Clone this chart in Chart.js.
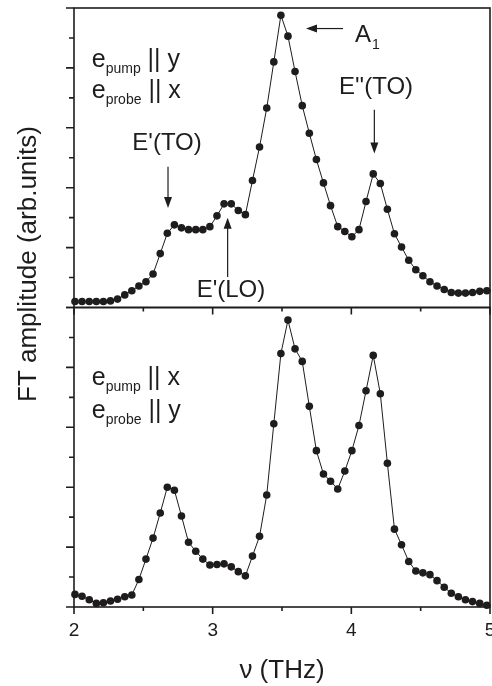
<!DOCTYPE html>
<html>
<head>
<meta charset="utf-8">
<script src="https://cdn.jsdelivr.net/npm/chart.js@4"></script>
<style>
  html, body { margin: 0; padding: 0; background: #fff; overflow: hidden; }
  #wrap { position: relative; width: 510px; height: 686px; }
</style>
</head>
<body>
<div id="wrap"><canvas id="chart" width="510" height="686"></canvas></div>
<script>
// frequency of each FFT point (THz), shared by both panels
const freq = [
  2.007, 2.058, 2.110, 2.161, 2.212, 2.263, 2.314, 2.366, 2.417, 2.468,
  2.519, 2.570, 2.622, 2.673, 2.724, 2.775, 2.826, 2.878, 2.929, 2.980,
  3.031, 3.082, 3.134, 3.185, 3.236, 3.287, 3.338, 3.390, 3.441, 3.492,
  3.543, 3.594, 3.646, 3.697, 3.748, 3.799, 3.850, 3.902, 3.953, 4.004,
  4.055, 4.106, 4.158, 4.209, 4.260, 4.311, 4.362, 4.414, 4.465, 4.516,
  4.567, 4.618, 4.670, 4.721, 4.772, 4.823, 4.874, 4.926, 4.977
];
// upper panel: e_pump || y, e_probe || x
const ampTop = [
  0.10, 0.10, 0.10, 0.10, 0.10, 0.11, 0.14, 0.21, 0.28, 0.36,
  0.43, 0.56, 0.90, 1.24, 1.38, 1.33, 1.30, 1.30, 1.30, 1.35,
  1.53, 1.73, 1.73, 1.62, 1.55, 2.12, 2.68, 3.33, 4.10, 4.88,
  4.53, 3.94, 3.37, 2.91, 2.47, 2.08, 1.70, 1.35, 1.27, 1.18,
  1.30, 1.77, 2.23, 2.07, 1.64, 1.23, 1.01, 0.79, 0.63, 0.53,
  0.43, 0.36, 0.30, 0.25, 0.24, 0.24, 0.25, 0.27, 0.28
];
// lower panel: e_pump || x, e_probe || y
const ampBottom = [
  0.21, 0.18, 0.12, 0.06, 0.07, 0.10, 0.13, 0.17, 0.20, 0.46,
  0.80, 1.15, 1.57, 2.00, 1.95, 1.52, 1.08, 0.93, 0.80, 0.70,
  0.71, 0.72, 0.67, 0.59, 0.52, 0.85, 1.18, 1.87, 3.06, 4.23,
  4.79, 4.31, 4.10, 3.35, 2.61, 2.22, 2.10, 1.97, 2.27, 2.61,
  3.03, 3.61, 4.20, 3.56, 2.40, 1.30, 1.04, 0.76, 0.60, 0.57,
  0.54, 0.44, 0.33, 0.23, 0.17, 0.12, 0.09, 0.06, 0.03
];
const xTickLabels = ["2", "3", "4", "5"];
const xMinorTicks = [2, 2.5, 3, 3.5, 4, 4.5, 5];
const yMinorTicks = [0, 0.5, 1, 1.5, 2, 2.5, 3, 3.5, 4, 4.5, 5];

const ink = "#1e1c1d";
const family = "'Liberation Sans', Arial, Helvetica, sans-serif";

function arrow(ctx, x1, y1, x2, y2) {
  const a = Math.atan2(y2 - y1, x2 - x1);
  const len = 11, half = 4;
  ctx.beginPath();
  ctx.moveTo(x1, y1);
  ctx.lineTo(x2 - len * Math.cos(a) * 0.8, y2 - len * Math.sin(a) * 0.8);
  ctx.stroke();
  ctx.beginPath();
  ctx.moveTo(x2, y2);
  ctx.lineTo(x2 - len * Math.cos(a) + half * Math.sin(a), y2 - len * Math.sin(a) - half * Math.cos(a));
  ctx.lineTo(x2 - len * Math.cos(a) - half * Math.sin(a), y2 - len * Math.sin(a) + half * Math.cos(a));
  ctx.closePath();
  ctx.fill();
}

// text made of normal and subscript runs, left aligned on a baseline
function richText(ctx, x, y, parts) {
  ctx.textAlign = "left";
  ctx.textBaseline = "alphabetic";
  for (const p of parts) {
    ctx.font = (p.sub ? "14px " : "25px ") + family;
    ctx.fillText(p.t, x, p.sub ? y + 6 : y);
    x += ctx.measureText(p.t).width;
  }
}

const decorations = {
  id: "decorations",
  afterDraw(chart) {
    const { ctx, scales } = chart;
    const sx = scales.x, yT = scales.yTop, yB = scales.yBot;
    const left = sx.left, right = sx.right;
    ctx.save();
    ctx.strokeStyle = ink;
    ctx.fillStyle = ink;

    // panel frames with outward ticks
    ctx.lineWidth = 1.6;
    for (const ys of [yT, yB]) {
      ctx.strokeRect(left, ys.top, right - left, ys.bottom - ys.top);
      ctx.beginPath();
      for (const v of yMinorTicks) {
        const py = ys.getPixelForValue(v);
        const len = v % 1 === 0 ? 8 : 5;
        ctx.moveTo(left - len, py);
        ctx.lineTo(left, py);
      }
      for (const v of xMinorTicks) {
        const px = sx.getPixelForValue(v);
        const len = v % 1 === 0 ? 7 : 4;
        ctx.moveTo(px, ys.bottom);
        ctx.lineTo(px, ys.bottom + len);
      }
      ctx.stroke();
    }

    // shared y title
    ctx.save();
    ctx.translate(29, 264);
    ctx.rotate(-Math.PI / 2);
    ctx.font = "26px " + family;
    ctx.textAlign = "center";
    ctx.textBaseline = "middle";
    ctx.fillText("FT amplitude (arb.units)", 0, 0);
    ctx.restore();

    const X = v => sx.getPixelForValue(v);
    const T = v => yT.getPixelForValue(v);
    const B = v => yB.getPixelForValue(v);

    // polarisation labels
    richText(ctx, X(2.128), T(4.02), [{ t: "e" }, { t: "pump", sub: true }, { t: " || y" }]);
    richText(ctx, X(2.128), T(3.50), [{ t: "e" }, { t: "probe", sub: true }, { t: " || x" }]);
    richText(ctx, X(2.128), B(3.71), [{ t: "e" }, { t: "pump", sub: true }, { t: " || x" }]);
    richText(ctx, X(2.128), B(3.16), [{ t: "e" }, { t: "probe", sub: true }, { t: " || y" }]);

    // mode labels
    ctx.font = "24px " + family;
    ctx.textAlign = "center";
    ctx.textBaseline = "alphabetic";
    ctx.fillText("E'(TO)", X(2.671), T(2.63));
    ctx.fillText("E'(LO)", X(3.132), T(0.18));
    ctx.fillText("E''(TO)", X(4.178), T(3.57));
    ctx.textAlign = "left";
    ctx.fillText("A", X(4.026), T(4.44));
    const aw = ctx.measureText("A").width;
    ctx.font = "14px " + family;
    ctx.fillText("1", X(4.026) + aw + 1, T(4.44) + 7);

    ctx.lineWidth = 1.2;
    arrow(ctx, X(2.678), T(2.35), X(2.678), T(1.66));
    arrow(ctx, X(3.108), T(0.51), X(3.108), T(1.50));
    arrow(ctx, X(3.94), T(4.657), X(3.673), T(4.657));
    arrow(ctx, X(4.166), T(3.30), X(4.166), T(2.57));
    ctx.restore();
  }
};

function series(values, axis) {
  return {
    data: freq.map((f, i) => ({ x: f, y: values[i] })),
    yAxisID: axis,
    borderColor: ink,
    borderWidth: 1,
    backgroundColor: ink,
    pointRadius: 3.8,
    pointBorderWidth: 0,
    pointBackgroundColor: ink,
    tension: 0,
    clip: 8
  };
}

const hiddenY = (weight) => ({
  type: "linear",
  position: "left",
  stack: "panels",
  stackWeight: 1,
  weight: weight,
  min: 0,
  max: 5,
  ticks: { display: false },
  grid: { display: false, drawTicks: false },
  border: { display: false }
});

new Chart(document.getElementById("chart"), {
  type: "line",
  data: { datasets: [series(ampTop, "yTop"), series(ampBottom, "yBot")] },
  options: {
    responsive: false,
    animation: false,
    layout: { padding: { left: 74, top: 8, right: 20, bottom: 0 } },
    plugins: { legend: { display: false }, tooltip: { enabled: false } },
    scales: {
      x: {
        type: "linear",
        min: 2,
        max: 5,
        ticks: {
          stepSize: 1,
          padding: 12,
          color: ink,
          font: { family: family, size: 19 },
          callback: (v, i) => xTickLabels[i]
        },
        grid: { display: false, drawTicks: false },
        border: { display: false },
        title: {
          display: true,
          text: "ν (THz)",
          color: ink,
          font: { family: family, size: 26 },
          padding: { top: 1, bottom: 0 }
        }
      },
      yTop: hiddenY(2),
      yBot: hiddenY(1)
    }
  },
  plugins: [decorations]
});
</script>
</body>
</html>
